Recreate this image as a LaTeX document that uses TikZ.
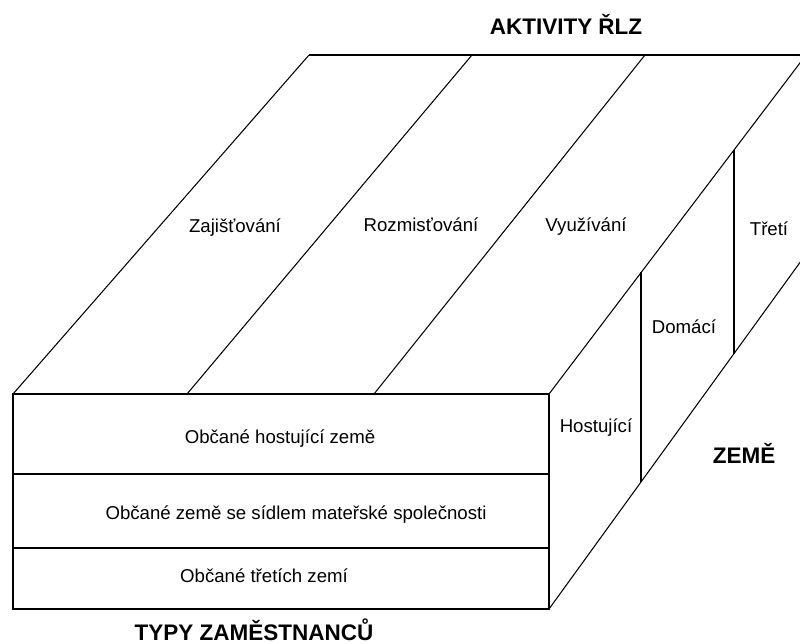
\documentclass[tikz,border=0pt]{standalone}
\usepackage{fontspec}
\setmainfont{Liberation Sans}

\begin{document}
\begin{tikzpicture}[x=0.02cm,y=-0.02cm,
        lbl/.style={font=\fontsize{10.6}{12}\selectfont,anchor=base},
        ttl/.style={font=\bfseries\fontsize{12.8}{14}\selectfont,anchor=base},
        front/.style={line width=1pt},
        thinline/.style={line width=0.6pt}]
        \useasboundingbox (0,0) rectangle (800,643);
        \clip (0,0) rectangle (800,643);

        % front face
        \coordinate (ftl) at (13,394);
        \coordinate (ftr) at (549,394);
        \coordinate (fbl) at (13,609);
        \coordinate (fbr) at (549,609);
        \draw[front](ftl)rectangle(fbr);
        \draw[front](13,474)--(549,474);
        \draw[front](13,548)--(549,548);

        % top face
        \coordinate (t1) at (309,55);
        \coordinate (t2) at (472,55);
        \coordinate (t3) at (645,55);
        \coordinate (t4) at (806,55);
        \coordinate (b2) at (187,394);
        \coordinate (b3) at (374,394);
        \draw[line width=1.2pt](t1)--(830,55);
        \draw[thinline](ftl)--(t1);
        \draw[thinline](b2)--(t2);
        \draw[thinline](b3)--(t3);
        \draw[thinline](ftr)--(t4);

        % right face
        \coordinate (r1) at (830,221);
        \draw[thinline](fbr)--(r1);
        \draw[thinline](641,272)--(641,482);
        \draw[thinline](734,150)--(734,354);

        % labels
        \node[ttl](akt)at(566,34){AKTIVITY ŘLZ};
        \node[ttl](typy)at(254,640){TYPY ZAMĚSTNANCŮ};
        \node[ttl](zeme)at(744,463){ZEMĚ};

        \node[lbl](zaj)at(235,232){Zajišťování};
        \node[lbl](roz)at(421,231){Rozmisťování};
        \node[lbl](vyu)at(586,231){Využívání};

        \node[lbl](tre)at(769,235){Třetí};
        \node[lbl](dom)at(684,333){Domácí};
        \node[lbl](hos)at(596,432){Hostující};

        \node[lbl](obh)at(280,443){Občané hostující země};
        \node[lbl](obs)at(296,519){Občané země se sídlem mateřské společnosti};
        \node[lbl](obt)at(264,582){Občané třetích zemí};
    \end{tikzpicture}
\end{document}
